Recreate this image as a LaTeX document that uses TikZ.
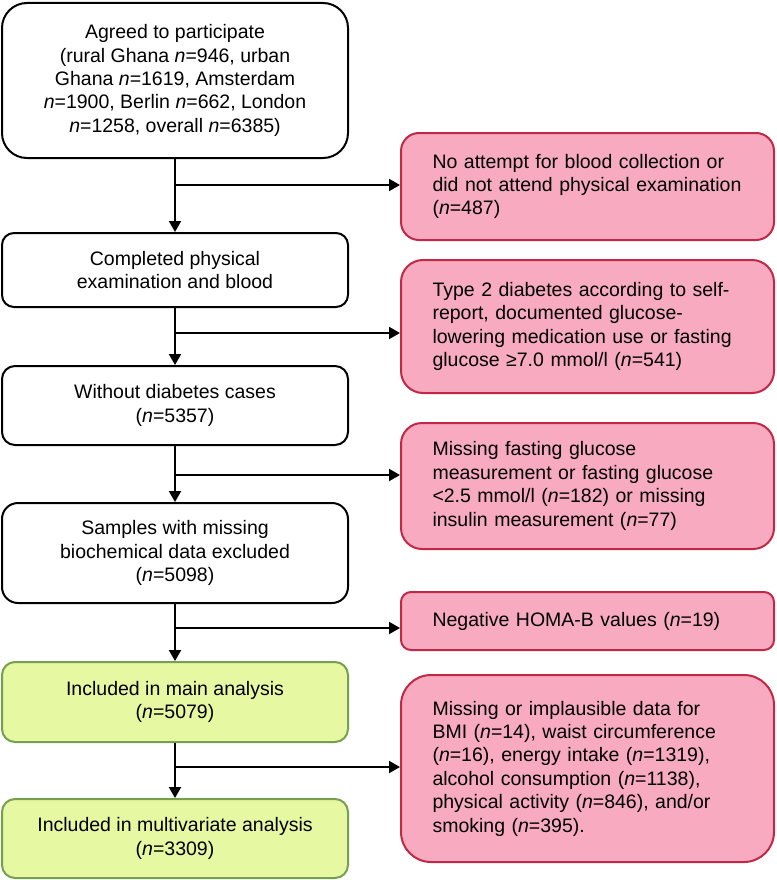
\documentclass[tikz,border=0pt]{standalone}
\usepackage{fontspec}
\setmainfont{Liberation Sans}
\usetikzlibrary{arrows.meta}
\definecolor{pinkfill}{RGB}{248,170,192}
\definecolor{pinkdraw}{RGB}{192,40,70}
\definecolor{greenfill}{RGB}{230,248,162}
\definecolor{greendraw}{RGB}{118,160,78}
\tikzset{
  every node/.style={font=\fontsize{19.5}{23.4}\selectfont},
  leftbox/.style={draw=black, line width=2pt, fill=white, minimum width=346pt, align=center, inner sep=0pt},
  greenbox/.style={leftbox, draw=greendraw, fill=greenfill},
  redbox/.style={draw=pinkdraw, line width=2pt, fill=pinkfill, minimum width=373pt, text width=310pt, inner xsep=31.5pt, inner ysep=0pt, align=left},
  arr/.style={line width=2pt, -{Triangle[length=11pt,width=12pt]}},
  ln/.style={line width=2pt}
}
\begin{document}
\begin{tikzpicture}[x=1pt,y=-1pt]
\useasboundingbox (0,0) rectangle (776,880);
% left column
\node[leftbox, minimum height=155pt, rounded corners=25pt] (b1) at (175,80.5)
  {Agreed to participate\\(rural Ghana \textit{n}=946, urban\\Ghana \textit{n}=1619, Amsterdam\\\textit{n}=1900, Berlin \textit{n}=662, London\\\textit{n}=1258, overall \textit{n}=6385)};
\node[leftbox, minimum height=74pt, rounded corners=12pt] (b2) at (175,270)
  {Completed physical\\examination and blood};
\node[leftbox, minimum height=79pt, rounded corners=13pt] (b3) at (175,405.5)
  {Without diabetes cases\\(\textit{n}=5357)};
\node[leftbox, minimum height=100pt, rounded corners=16pt] (b4) at (175,553)
  {Samples with missing\\biochemical data excluded\\(\textit{n}=5098)};
\node[greenbox, minimum height=80pt, rounded corners=13pt] (b5) at (175,702)
  {Included in main analysis\\(\textit{n}=5079)};
\node[greenbox, minimum height=79pt, rounded corners=13pt] (b6) at (175,838.5)
  {Included in multivariate analysis\\(\textit{n}=3309)};
% right column
\node[redbox, minimum height=107pt, rounded corners=18pt] (r1) at (587.5,186.5)
  {No attempt for blood collection or\\did not attend physical examination\\(\textit{n}=487)};
\node[redbox, minimum height=133pt, rounded corners=22pt] (r2) at (587.5,326.5)
  {Type 2 diabetes according to self-\\report, documented glucose-\\lowering medication use or fasting\\glucose ≥7.0 mmol/l (\textit{n}=541)};
\node[redbox, minimum height=126pt, rounded corners=21pt] (r3) at (587.5,486)
  {Missing fasting glucose\\measurement or fasting glucose\\<2.5 mmol/l (\textit{n}=182) or missing\\insulin measurement (\textit{n}=77)};
\node[redbox, minimum height=58pt, rounded corners=10pt] (r4) at (587.5,621)
  {Negative HOMA-B values (\textit{n}=19)};
\node[redbox, minimum height=187pt, rounded corners=30pt] (r5) at (587.5,768.5)
  {Missing or implausible data for\\BMI (\textit{n}=14), waist circumference\\(\textit{n}=16), energy intake (\textit{n}=1319),\\alcohol consumption (\textit{n}=1138),\\physical activity (\textit{n}=846), and/or\\smoking (\textit{n}=395).};
% junctions
\coordinate (j1) at (175,185);
\coordinate (j2) at (175,333);
\coordinate (j3) at (175,475);
\coordinate (j4) at (175,628);
\coordinate (j5) at (175,767);
% connectors
\draw[arr] (b1.south) -- (b2.north);
\draw[arr] (b2.south) -- (b3.north);
\draw[arr] (b3.south) -- (b4.north);
\draw[arr] (b4.south) -- (b5.north);
\draw[arr] (b5.south) -- (b6.north);
\draw[arr] (j1) -- (j1 -| r1.west);
\draw[arr] (j2) -- (j2 -| r2.west);
\draw[arr] (j3) -- (j3 -| r3.west);
\draw[arr] (j4) -- (j4 -| r4.west);
\draw[arr] (j5) -- (j5 -| r5.west);
\end{tikzpicture}
\end{document}
